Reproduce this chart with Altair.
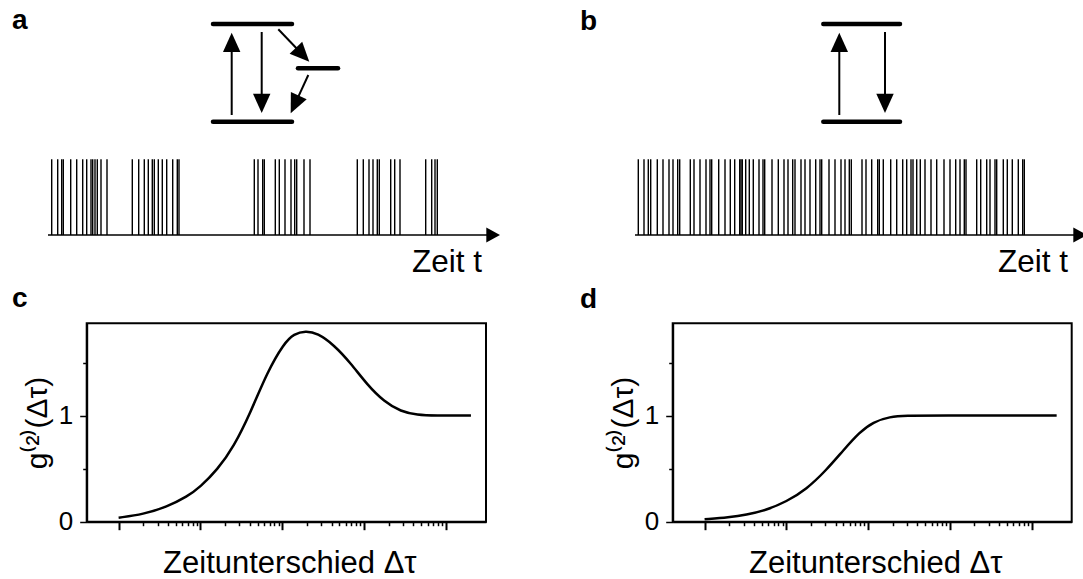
import math
import altair as alt
import pandas as pd

FONT = "Liberation Sans"
W, H = 1083, 579

# ---------------------------------------------------------------- photon trains
# detection times along the time axis (arbitrary units, axis runs 0..452)
times_a = [3.7, 9.7, 13.7, 15.3, 22.7, 28.7, 34.7, 38.7, 43, 44.7, 47, 49.3, 53, 59,
           84.3, 90.7, 96.3, 100.3, 104.3, 106.3, 110.3, 114.3, 118.7, 124.7, 129.3, 131,
           206.3, 210, 214.7, 216.3, 227.3, 231.3, 237, 243, 246.7, 248.7, 256, 262,
           309.3, 315.3, 321, 325, 329.3, 331.3, 342.7, 346.7, 352,
           377.7, 383.7, 387, 389.3]
times_b = [3.3, 9, 13.3, 15.7, 22.3, 28, 34, 38, 42.7, 44.7, 55.3, 59, 65, 71, 75, 76.7,
           83.7, 90, 95.3, 99.7, 104.7, 106, 107.3, 110.7, 114.3, 118.3, 124, 128, 129.7,
           137, 143.3, 149, 153, 157.7, 160, 166, 170, 175, 180.7, 185, 186.7, 194, 200,
           206, 210, 214.3, 216.3, 227, 231, 236.7, 242.7, 244.3, 248.3, 255.7, 261.7,
           267.7, 271.7, 276, 278, 281.7, 285.3, 290, 296, 301.7, 309, 315, 320.7, 325,
           329.3, 331, 341.7, 345.7, 351.7, 355, 360, 361.7, 368.3, 372.3, 377.3, 383.3,
           387.7, 389.3]
T_END = 452      # tip of the time arrow
T_HEAD = 14      # arrowhead length

# ---------------------------------------------------------------- level schemes
# levels: (x start, x end, energy); arrows: (x0, e0, x1, e1) from tail to tip
levels_a_x0 = [0, 0, 85]
levels_a_x1 = [79, 79, 125]
levels_a_e = [0, 97.7, 53.4]
arrows_a = [(18.7, 6.7, 18.7, 89), (48.7, 89.7, 48.7, 8.7),
            (65.3, 92.4, 96.3, 60), (95.3, 46.7, 77.7, 8.4)]

levels_b_x0 = [0, 0]
levels_b_x1 = [76.7, 76.7]
levels_b_e = [0, 97.7]
arrows_b = [(16, 6.7, 16, 89), (61.7, 89.7, 61.7, 8.7)]

# ---------------------------------------------------------------- g2 curves
tau_c = [1, 2.0, 3.9, 6.9, 10, 16, 25.6, 41, 65.5, 105, 139, 193, 269, 428, 687,
         1097, 1758, 2812, 4498, 7194, 20230]
g2_c = [0.038, 0.069, 0.141, 0.236, 0.33, 0.487, 0.708, 1.03, 1.41, 1.682, 1.77,
        1.80, 1.777, 1.667, 1.494, 1.289, 1.132, 1.038, 1.006, 1.0, 1.0]
tau_d = [1, 2.0, 3.2, 5.7, 10, 17.6, 30.9, 49.4, 79, 115, 184, 295, 600, 20230]
g2_d = [0.022, 0.041, 0.063, 0.11, 0.189, 0.305, 0.487, 0.67, 0.845, 0.94, 0.99,
        1.0, 1.0, 1.0]

HEAD_UP = "M0,0L-0.45,1L0.45,1Z"         # tip at the symbol origin, pointing up
HEAD_RIGHT = "M0,0L-1,-0.55L-1,0.55Z"     # tip at the symbol origin, pointing right
HEAD_SIZE = 1500


def scheme(x0s, x1s, es, arrows, px_left):
    xs = alt.Scale(domain=[0, 130], range=[px_left, px_left + 130])
    ys = alt.Scale(domain=[0, 100], range=[121.7, 21.7])
    lev = pd.DataFrame({"x0": x0s, "x1": x1s, "e": es})
    rows = []
    for (ax, ay, bx, by) in arrows:
        dx, dy = bx - ax, by - ay
        n = math.hypot(dx, dy)
        ang = math.degrees(math.atan2(dx, dy)) % 360
        rows.append({"ax": ax, "ay": ay, "sx": bx - dx / n * 12, "sy": by - dy / n * 12,
                     "bx": bx, "by": by, "ang": ang})
    arr = pd.DataFrame(rows)
    levels = alt.Chart(lev).mark_rule(strokeWidth=4.5, strokeCap="round", color="black").encode(
        x=alt.X("x0:Q", scale=xs, axis=None), x2="x1:Q",
        y=alt.Y("e:Q", scale=ys, axis=None))
    shafts = alt.Chart(arr).mark_rule(strokeWidth=2, color="black").encode(
        x=alt.X("ax:Q", scale=xs, axis=None), x2="sx:Q",
        y=alt.Y("ay:Q", scale=ys, axis=None), y2="sy:Q")
    heads = alt.Chart(arr).mark_point(shape=HEAD_UP, filled=True, size=HEAD_SIZE, opacity=1,
                                      color="black", strokeWidth=0).encode(
        x=alt.X("bx:Q", scale=xs, axis=None),
        y=alt.Y("by:Q", scale=ys, axis=None),
        angle=alt.Angle("ang:Q", scale=None))
    return alt.layer(levels, shafts, heads)


def train(times, px_left):
    xs = alt.Scale(domain=[0, T_END], range=[px_left, px_left + T_END])
    ys = alt.Scale(domain=[0, 1], range=[235, 159.3])
    ph = pd.DataFrame({"t": times, "lo": 0, "hi": 1})
    axis_df = pd.DataFrame({"t0": [0], "t1": [T_END - T_HEAD + 2], "tip": [T_END], "lo": [0]})
    photons = alt.Chart(ph).mark_rule(strokeWidth=1.4, color="black").encode(
        x=alt.X("t:Q", scale=xs, axis=None),
        y=alt.Y("lo:Q", scale=ys, axis=None), y2="hi:Q")
    base = alt.Chart(axis_df).mark_rule(strokeWidth=1.6, color="black").encode(
        x=alt.X("t0:Q", scale=xs, axis=None), x2="t1:Q",
        y=alt.Y("lo:Q", scale=ys, axis=None))
    head = alt.Chart(axis_df).mark_point(shape=HEAD_RIGHT, filled=True, size=HEAD_SIZE / 2,
                                         opacity=1, color="black", strokeWidth=0).encode(
        x=alt.X("tip:Q", scale=xs, axis=None),
        y=alt.Y("lo:Q", scale=ys, axis=None))
    return alt.layer(photons, base, head)


x_major = [1, 10, 100, 1000, 10000]
x_minor = [m * 10 ** k for k in range(4) for m in range(2, 10)]
y_major = [0, 1]
y_minor = [0.5, 1.5]
DOM = [10 ** -0.39, 10 ** 4.49]
Y_TOP = 1.87


def g2_panel(tau, g2, px_left, px_right):
    xs = alt.Scale(type="log", domain=DOM, range=[px_left, px_right])
    ys = alt.Scale(domain=[0, Y_TOP], range=[521.7, 323.3])
    x_off = -(H - 521.7)
    # long ticks, labels and titles
    xaxis = alt.Axis(orient="bottom", offset=x_off, values=x_major, labels=False,
                     grid=False, domainColor="black", domainWidth=2, tickColor="black",
                     tickWidth=2, tickSize=8,
                     title="Zeitunterschied Δτ", titleFont=FONT, titleFontSize=31,
                     titleFontWeight="normal", titleColor="black",
                     titleX=(px_left + px_right) / 2 + 3, titleY=51,
                     titleAlign="center", titleBaseline="alphabetic")
    yaxis = alt.Axis(orient="left", offset=-px_left, values=y_major, format="d",
                     labelFont=FONT, labelFontSize=26, labelColor="black", labelPadding=7,
                     grid=False, domainColor="black", domainWidth=2, tickColor="black",
                     tickWidth=1.5, tickSize=7,
                     title="g⁽²⁾(Δτ)", titleFont=FONT, titleFontSize=30,
                     titleFontWeight="normal", titleColor="black", titleAngle=270,
                     titleX=47 - 87, titleY=422.5, titleAlign="center",
                     titleBaseline="alphabetic")
    # short minor ticks
    xaxis_minor = alt.Axis(orient="bottom", offset=x_off, values=x_minor, labels=False,
                           grid=False, domain=False, tickColor="black", tickWidth=1.5,
                           tickSize=4, title="")
    yaxis_minor = alt.Axis(orient="left", offset=-px_left, values=y_minor, labels=False,
                           grid=False, domain=False, tickColor="black", tickWidth=1.5,
                           tickSize=4, title="")
    frame_df = pd.DataFrame({"a": [DOM[0]], "b": [DOM[1]], "lo": [0], "hi": [Y_TOP]})
    frame = alt.Chart(frame_df).mark_rect(fill="white", fillOpacity=0, stroke="black",
                                          strokeWidth=2).encode(
        x=alt.X("a:Q", scale=xs, axis=xaxis), x2="b:Q",
        y=alt.Y("lo:Q", scale=ys, axis=yaxis), y2="hi:Q")
    curve = alt.Chart(pd.DataFrame({"tau": tau, "g": g2})).mark_line(
        color="black", strokeWidth=2.5, interpolate="basis").encode(
        x=alt.X("tau:Q", scale=xs, axis=xaxis_minor),
        y=alt.Y("g:Q", scale=ys, axis=yaxis_minor))
    return alt.layer(frame, curve).resolve_axis(x="independent", y="independent")


def text(s, x, y, size, weight="normal", align="left"):
    return alt.Chart(pd.DataFrame({"s": [s]})).mark_text(
        font=FONT, fontSize=size, fontWeight=weight, align=align, baseline="alphabetic",
        color="black").encode(x=alt.value(x), y=alt.value(y), text="s:N")


chart = alt.layer(
    scheme(levels_a_x0, levels_a_x1, levels_a_e, arrows_a, 213),
    scheme(levels_b_x0, levels_b_x1, levels_b_e, arrows_b, 823.3),
    train(times_a, 48),
    train(times_b, 635),
    g2_panel(tau_c, g2_c, 86.7, 486),
    g2_panel(tau_d, g2_d, 672.7, 1071.7),
    text("a", 12, 29, 28, "bold"),
    text("b", 580, 30, 28, "bold"),
    text("c", 12, 307, 28, "bold"),
    text("d", 580, 308, 28, "bold"),
    text("Zeit t", 482, 272, 31.5, align="right"),
    text("Zeit t", 1068, 272, 31.5, align="right"),
).resolve_scale(x="independent", y="independent").properties(
    width=W, height=H, padding=0, autosize=alt.AutoSizeParams(type="none"),
    background="white"
).configure_view(stroke=None)

chart.save("out.html", embed_options={"renderer": "svg", "actions": False})
